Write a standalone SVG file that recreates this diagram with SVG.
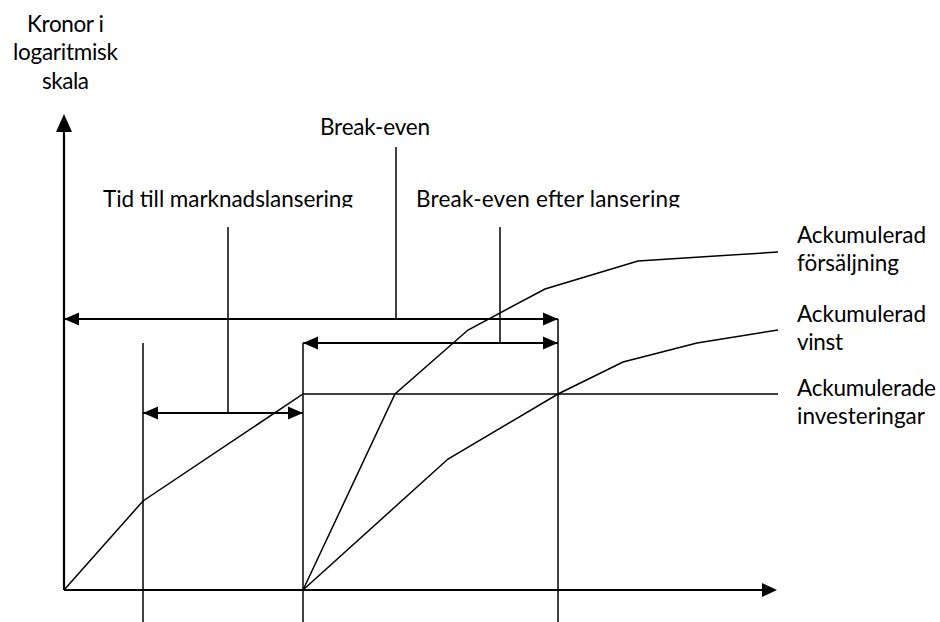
<svg xmlns="http://www.w3.org/2000/svg" width="940" height="622" viewBox="0 0 940 622">
  <style>
    .lbl { font-family: Lato, "Open Sans", sans-serif; font-size: 22.5px; fill: #000; }
    .axis { stroke: #000; stroke-width: 2.2; fill: none; }
    .dim { stroke: #000; stroke-width: 2; fill: none; }
    .thin { stroke: #000; stroke-width: 1.5; fill: none; stroke-linejoin: miter; }
    .head { fill: #000; stroke: none; }
  </style>
  <defs>
    <marker id="dimEnd" markerUnits="userSpaceOnUse" markerWidth="16" markerHeight="14" refX="15" refY="6.5" orient="auto-start-reverse" viewBox="0 0 16 13">
      <path d="M0,0 L15,6.5 L0,13 Z" class="head"/>
    </marker>
    <clipPath id="labelBand">
      <rect x="0" y="150" width="940" height="57.5"/>
    </clipPath>
  </defs>
  <rect width="940" height="622" fill="#fff"/>

  <!-- axes -->
  <g id="axes">
    <line class="axis" x1="64" y1="590" x2="64" y2="128"/>
    <path class="head" d="M64,114 L72,132 L56,132 Z"/>
    <line class="axis" x1="64" y1="590" x2="764" y2="590"/>
    <path class="head" d="M777,590 L762,583 L762,597 Z"/>
  </g>

  <!-- milestone verticals -->
  <g id="milestones">
    <line class="thin" x1="143" y1="343" x2="143" y2="622"/>
    <line class="thin" x1="303" y1="343" x2="303" y2="622"/>
    <line class="thin" x1="558" y1="319" x2="558" y2="622"/>
  </g>

  <!-- cumulative curves -->
  <g id="curves">
    <polyline id="investeringar" class="thin" points="64,590 143,501 303,394 778,394"/>
    <polyline id="forsaljning" class="thin" points="303,590 395,394 468,330 545,289 638,261 778,252"/>
    <polyline id="vinst" class="thin" points="303,590 448,459 558,394 623,362 697,343 778,330"/>
  </g>

  <!-- interval arrows and their leader lines -->
  <g id="connectors">
    <line class="dim" x1="64" y1="319" x2="558" y2="319" marker-start="url(#dimEnd)" marker-end="url(#dimEnd)"/>
    <line class="dim" x1="303" y1="343" x2="558" y2="343" marker-start="url(#dimEnd)" marker-end="url(#dimEnd)"/>
    <line class="dim" x1="143" y1="413" x2="303" y2="413" marker-start="url(#dimEnd)" marker-end="url(#dimEnd)"/>
    <line class="thin" x1="396" y1="147" x2="396" y2="319"/>
    <line class="thin" x1="228" y1="227" x2="228" y2="413"/>
    <line class="thin" x1="500" y1="227" x2="500" y2="343"/>
  </g>

  <!-- labels -->
  <g id="y-label">
    <text class="lbl" x="65.5" y="31.5" text-anchor="middle" textLength="77">Kronor i</text>
    <text class="lbl" x="65.5" y="60" text-anchor="middle" textLength="105">logaritmisk</text>
    <text class="lbl" x="65.5" y="88.5" text-anchor="middle" textLength="47">skala</text>
  </g>
  <g id="break-even">
    <text class="lbl" x="320" y="135" textLength="110">Break-even</text>
  </g>
  <g id="tid-till-lansering" clip-path="url(#labelBand)">
    <text class="lbl" x="103" y="206.5" textLength="250">Tid till marknadslansering</text>
  </g>
  <g id="break-even-efter" clip-path="url(#labelBand)">
    <text class="lbl" x="416" y="206.5" textLength="264">Break-even efter lansering</text>
  </g>
  <g id="label-forsaljning">
    <text class="lbl" x="797" y="243" textLength="129">Ackumulerad</text>
    <text class="lbl" x="797" y="271" textLength="102">försäljning</text>
  </g>
  <g id="label-vinst">
    <text class="lbl" x="797" y="322" textLength="129">Ackumulerad</text>
    <text class="lbl" x="797" y="350" textLength="46">vinst</text>
  </g>
  <g id="label-investeringar">
    <text class="lbl" x="797" y="396" textLength="139">Ackumulerade</text>
    <text class="lbl" x="797" y="423.5" textLength="128">investeringar</text>
  </g>
</svg>
